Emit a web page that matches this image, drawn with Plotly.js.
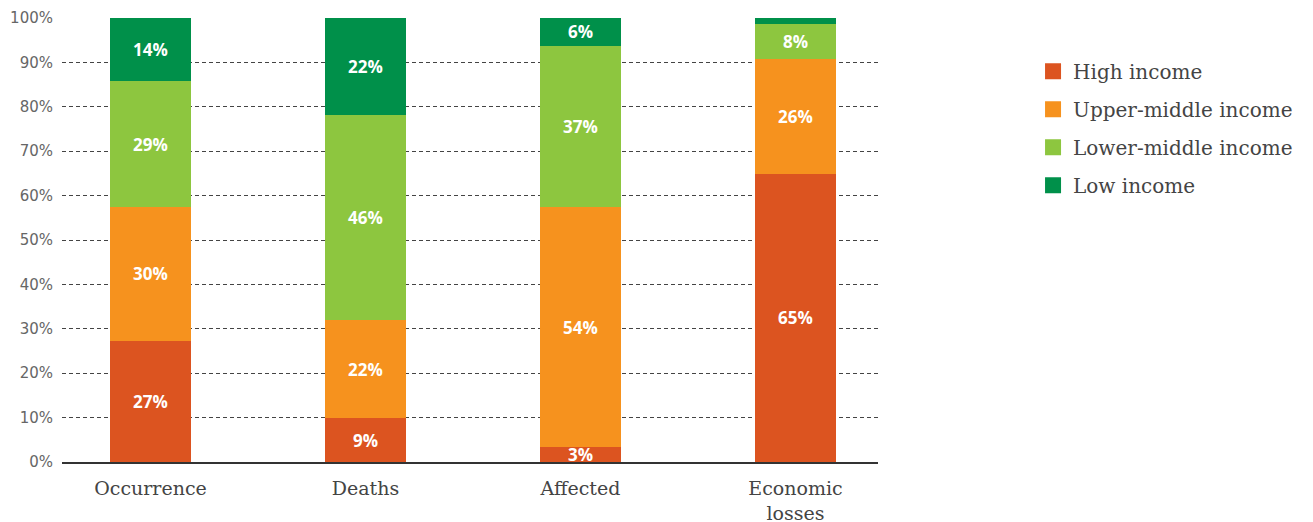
<!DOCTYPE html>
<html>
<head>
<meta charset="utf-8">
<script src="https://cdn.plot.ly/plotly-3.0.1.min.js"></script>
<style>html,body{margin:0;padding:0;background:#fff;}#chart{width:1313px;height:522px;}</style>
</head>
<body>
<div id="chart"></div>
<script>
const categories = ["Occurrence", "Deaths", "Affected", "Economic<br>losses"];
const seriesNames = ["High income", "Upper-middle income", "Lower-middle income", "Low income"];
const seriesColors = ["#DC5420", "#F6921E", "#8DC63F", "#00904A"];

const highIncome        = [27.3, 9.8, 3.4, 64.9];
const upperMiddleIncome = [30.1, 22.2, 54.0, 25.9];
const lowerMiddleIncome = [28.4, 46.2, 36.3, 7.9];
const lowIncome         = [14.2, 21.8, 6.3, 1.3];

const highLabels        = ["27%", "9%", "3%", "65%"];
const upperMiddleLabels = ["30%", "22%", "54%", "26%"];
const lowerMiddleLabels = ["29%", "46%", "37%", "8%"];
const lowLabels         = ["14%", "22%", "6%", ""];

const yTickVals = [0, 10, 20, 30, 40, 50, 60, 70, 80, 90, 100];
const yTickLabels = ["0%", "10%", "20%", "30%", "40%", "50%", "60%", "70%", "80%", "90%", "100%"];

const values = [highIncome, upperMiddleIncome, lowerMiddleIncome, lowIncome];
const labels = [highLabels, upperMiddleLabels, lowerMiddleLabels, lowLabels];

const traces = [];
values.forEach((v, i) => {
  traces.push({
    type: "bar",
    x: categories,
    y: v,
    name: seriesNames[i],
    text: labels[i],
    textposition: "inside",
    insidetextanchor: "middle",
    textangle: 0,
    insidetextfont: {family: "Open Sans", size: 17, color: "#ffffff", weight: 700},
    marker: {color: seriesColors[i], line: {width: 0}},
    width: 0.3767,
    showlegend: false,
    hoverinfo: "skip"
  });
});
seriesNames.forEach((n, i) => {
  traces.push({
    type: "scatter",
    mode: "markers",
    x: [null],
    y: [null],
    name: n,
    legendgroup: "g" + i,
    marker: {symbol: "square", size: 16, color: seriesColors[i], line: {width: 0}},
    showlegend: true
  });
});

const layout = {
  width: 1313,
  height: 522,
  margin: {l: 62, r: 435, t: 18, b: 60},
  paper_bgcolor: "#ffffff",
  plot_bgcolor: "#ffffff",
  barmode: "stack",
  uniformtext: {mode: "show", minsize: 17},
  font: {family: "DejaVu Sans", color: "#555555"},
  xaxis: {
    type: "category",
    range: [-0.4116, 3.384],
    showgrid: false,
    zeroline: false,
    showline: true,
    linecolor: "#333333",
    linewidth: 2,
    ticks: "",
    ticklabelstandoff: 8,
    tickfont: {family: "DejaVu Serif", size: 19, color: "#444444"}
  },
  yaxis: {
    range: [0, 100],
    tickmode: "array",
    tickvals: yTickVals,
    ticktext: yTickLabels,
    showgrid: true,
    gridcolor: "#444444",
    gridwidth: 1,
    griddash: "4px,3px",
    zeroline: false,
    showline: false,
    ticks: "",
    ticklabelstandoff: 8,
    tickfont: {family: "DejaVu Sans", size: 15, color: "#666666"}
  },
  legend: {
    x: 1.19,
    xanchor: "left",
    y: 0.924,
    yanchor: "top",
    traceorder: "grouped",
    tracegroupgap: 9,
    font: {family: "DejaVu Serif", size: 20, color: "#444444"},
    bgcolor: "rgba(0,0,0,0)"
  },
  showlegend: true
};

Plotly.newPlot("chart", traces, layout, {displayModeBar: false, staticPlot: true});
</script>
</body>
</html>
